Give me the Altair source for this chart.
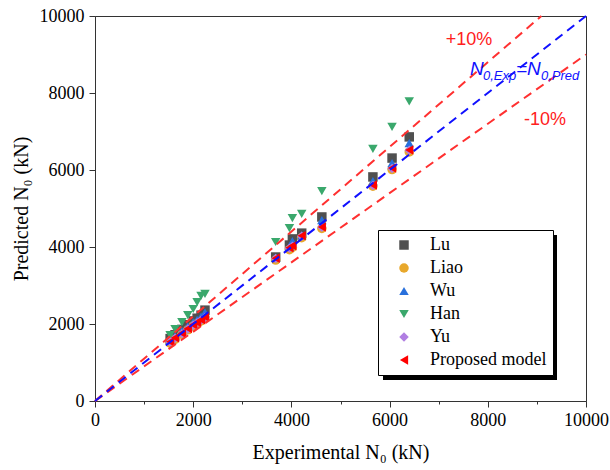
import altair as alt
import pandas as pd

# Experimental axial capacity of the specimens (kN)
exp_n0 = [1530, 1630, 1770, 1890, 2000, 2080, 2160, 2240,
          3680, 3960, 4020, 4210, 4620, 5660, 6050, 6400]

# Predicted capacity from each model (kN)
pred_lu = [1620, 1720, 1860, 1980, 2080, 2150, 2230, 2360,
           3740, 4050, 4210, 4360, 4780, 5820, 6310, 6860]
pred_liao = [1500, 1600, 1730, 1850, 1950, 2010, 2080, 2160,
             3660, 3930, 3990, 4240, 4480, 5580, 6010, 6470]
pred_wu = [1580, 1680, 1820, 1940, 2040, 2110, 2190, 2300,
           3720, 4000, 4150, 4300, 4700, 5710, 6180, 6700]
pred_han = [1710, 1870, 2050, 2230, 2390, 2570, 2730, 2780,
            4130, 4490, 4750, 4860, 5450, 6550, 7120, 7780]
pred_yu = [1530, 1630, 1750, 1870, 1970, 2030, 2100, 2170,
           3700, 3970, 4020, 4280, 4510, 5600, 6040, 6510]
pred_proposed = [1540, 1640, 1760, 1880, 1980, 2040, 2110, 2180,
                 3710, 3980, 4030, 4290, 4520, 5610, 6050, 6520]

models = ["Lu", "Liao", "Wu", "Han", "Yu", "Proposed model"]
model_colors = ["#505050", "#e8a82c", "#2870dc", "#3aa86c", "#b07ee2", "#ff0000"]
model_shapes = ["square", "circle", "triangle-up", "triangle-down", "diamond", "triangle-left"]
model_sizes = [90, 90, 150, 150, 110, 150]

series = [pred_lu, pred_liao, pred_wu, pred_han, pred_yu, pred_proposed]
rows = []
for name, vals in zip(models, series):
    for xe, yp in zip(exp_n0, vals):
        rows.append({"exp": xe, "pred": yp, "model": name, "order": models.index(name)})
points = pd.DataFrame(rows)

# Reference lines: equality and +/-10 % bounds
line_x_equal = [0, 10000]
line_y_equal = [0, 10000]
line_x_upper = [0, 10000 / 1.1]
line_y_upper = [0, 10000]
line_x_lower = [0, 10000]
line_y_lower = [0, 9000]

SERIF = "Liberation Serif"
SANS = "Liberation Sans"

x_scale = alt.Scale(domain=[0, 10000], nice=False, zero=True)
y_scale = alt.Scale(domain=[0, 10000], nice=False, zero=True)

tick_vals = list(range(0, 10001, 1000))
tick_size = {"condition": {"test": "datum.value % 2000 === 0", "value": 6}, "value": 3}
label_expr = "datum.value % 2000 === 0 ? format(datum.value, 'd') : ''"

x_axis = alt.Axis(
    values=tick_vals, labelExpr=label_expr, tickSize=tick_size, grid=False,
    labelFlush=False, labelOverlap=False, labelPadding=4,
    title="Experimental N\u2080 (kN)", titlePadding=13,
)
y_axis = alt.Axis(
    values=tick_vals, labelExpr=label_expr, tickSize=tick_size, grid=False,
    labelFlush=False, labelOverlap=False, labelPadding=5,
    title="Predicted N\u2080 (kN)", titlePadding=8,
)

legend = alt.Legend(
    orient="none", legendX=283, legendY=214, title=None,
    strokeColor="black", fillColor="white", padding=6,
    labelFont=SERIF, labelFontSize=18, labelColor="black",
    symbolSize=60, symbolOffset=11, labelOffset=17, rowPadding=5,
    symbolStrokeWidth=0,
)

# Drop shadow behind the legend box
shadow = alt.Chart(pd.DataFrame({"k": [0]})).mark_rect(color="black").encode(
    x=alt.value(288), x2=alt.value(462), y=alt.value(219), y2=alt.value(364)
)

pts = alt.Chart(points).mark_point(filled=True, opacity=1).encode(
    x=alt.X("exp:Q", scale=x_scale, axis=x_axis),
    y=alt.Y("pred:Q", scale=y_scale, axis=y_axis),
    color=alt.Color("model:N", scale=alt.Scale(domain=models, range=model_colors), legend=legend),
    shape=alt.Shape("model:N", scale=alt.Scale(domain=models, range=model_shapes), legend=legend),
    size=alt.Size("model:N", scale=alt.Scale(domain=models, range=model_sizes), legend=None),
    order=alt.Order("order:Q"),
)


def ref_line(xs, ys, color):
    df = pd.DataFrame({"exp": xs, "pred": ys})
    return alt.Chart(df).mark_line(color=color, strokeWidth=2, strokeDash=[9, 6]).encode(
        x=alt.X("exp:Q", scale=x_scale), y=alt.Y("pred:Q", scale=y_scale)
    )


upper = ref_line(line_x_upper, line_y_upper, "#ff3030")
lower = ref_line(line_x_lower, line_y_lower, "#ff3030")
equal = ref_line(line_x_equal, line_y_equal, "#1010ff")


def label(text, x, y, color, size, font, dx=0, dy=0, italic=False, align="center"):
    df = pd.DataFrame({"exp": [x], "pred": [y], "t": [text]})
    return alt.Chart(df).mark_text(
        color=color, fontSize=size, font=font, dx=dx, dy=dy, align=align,
        baseline="alphabetic", fontStyle="italic" if italic else "normal",
    ).encode(x=alt.X("exp:Q", scale=x_scale), y=alt.Y("pred:Q", scale=y_scale), text="t:N")


plus10 = label("+10%", 7617, 9247, "#ff2020", 18, SANS)
minus10 = label("-10%", 9165, 7169, "#ff2020", 18, SANS)

eq_x, eq_y = 7637, 8468
eq_parts = [
    label("N", eq_x, eq_y, "#1010ff", 19, SANS, dx=0, italic=True, align="left"),
    label("0,Exp", eq_x, eq_y, "#1010ff", 13, SANS, dx=13, dy=5, italic=True, align="left"),
    label("=N", eq_x, eq_y, "#1010ff", 19, SANS, dx=46, italic=True, align="left"),
    label("0,Pred", eq_x, eq_y, "#1010ff", 13, SANS, dx=71, dy=5, italic=True, align="left"),
]

chart = alt.layer(shadow, pts, upper, lower, equal, plus10, minus10, *eq_parts).properties(
    width=491, height=385,
    padding={"left": 95, "top": 16, "right": 24, "bottom": 69},
    autosize=alt.AutoSizeParams(type="none"),
    background="white",
).configure_view(
    stroke="#333333", strokeWidth=1
).configure_axis(
    domainColor="#333333", tickColor="#333333", labelColor="black", titleColor="black",
    labelFont=SERIF, labelFontSize=18, titleFont=SERIF, titleFontSize=20,
    titleFontWeight="normal",
)

chart.save("out.html", embed_options={"renderer": "svg", "actions": False})
